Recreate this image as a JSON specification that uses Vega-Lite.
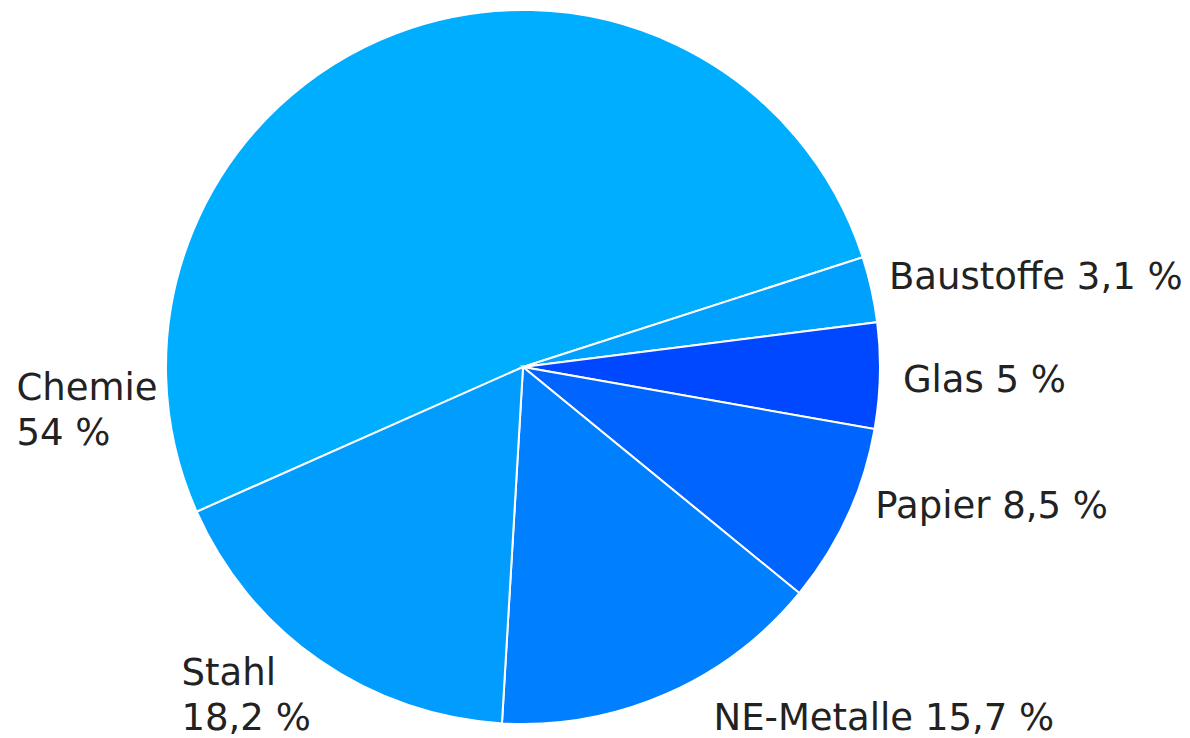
{
  "$schema": "https://vega.github.io/schema/vega-lite/v6.json",
  "width": 714,
  "height": 714,
  "autosize": {"type": "none"},
  "padding": {"left": 166, "top": 10, "right": 310, "bottom": 14},
  "background": "white",
  "config": {"view": {"stroke": null}},
  "data": {
    "values": [
      {"name": "Chemie", "value": 54, "label": "Chemie\n54 %", "k": 1},
      {"name": "Baustoffe", "value": 3.1, "label": "Baustoffe 3,1 %", "k": 2},
      {"name": "Glas", "value": 5, "label": "Glas 5 %", "k": 3},
      {"name": "Papier", "value": 8.5, "label": "Papier 8,5 %", "k": 4},
      {"name": "NE-Metalle", "value": 15.7, "label": "NE-Metalle 15,7 %", "k": 5},
      {"name": "Stahl", "value": 18.2, "label": "Stahl\n18,2 %", "k": 6}
    ]
  },
  "encoding": {
    "theta": {"field": "value", "type": "quantitative", "stack": true, "scale": {"range": [4.295, 10.578]}},
    "order": {"field": "k", "type": "quantitative", "sort": "ascending"}
  },
  "layer": [
    {
      "mark": {"type": "arc", "stroke": "white", "strokeWidth": 2},
      "encoding": {
        "color": {
          "field": "name",
          "type": "nominal",
          "scale": {
            "domain": ["Chemie", "Baustoffe", "Glas", "Papier", "NE-Metalle", "Stahl"],
            "range": ["#00AEFF", "#00A0FF", "#0048FF", "#0064FF", "#0080FF", "#009DFF"]
          },
          "legend": null
        }
      }
    },
    {
      "mark": {"type": "text", "radius": 380, "align": "left", "baseline": "alphabetic", "dx": -5, "dy": 5, "font": "DejaVu Sans", "fontSize": 37, "fill": "#222", "lineBreak": "\n", "lineHeight": 45},
      "encoding": {"text": {"condition": {"test": "datum.name === 'Baustoffe'", "field": "label"}, "value": ""}}
    },
    {
      "mark": {"type": "text", "radius": 380, "align": "left", "baseline": "alphabetic", "dx": 0, "dy": 16, "font": "DejaVu Sans", "fontSize": 37, "fill": "#222", "lineBreak": "\n", "lineHeight": 45},
      "encoding": {"text": {"condition": {"test": "datum.name === 'Glas'", "field": "label"}, "value": ""}}
    },
    {
      "mark": {"type": "text", "radius": 380, "align": "left", "baseline": "alphabetic", "dx": 7, "dy": -8, "font": "DejaVu Sans", "fontSize": 37, "fill": "#222", "lineBreak": "\n", "lineHeight": 45},
      "encoding": {"text": {"condition": {"test": "datum.name === 'Papier'", "field": "label"}, "value": ""}}
    },
    {
      "mark": {"type": "text", "radius": 380, "align": "left", "baseline": "alphabetic", "dx": 38, "dy": 15, "font": "DejaVu Sans", "fontSize": 37, "fill": "#222", "lineBreak": "\n", "lineHeight": 45},
      "encoding": {"text": {"condition": {"test": "datum.name === 'NE-Metalle'", "field": "label"}, "value": ""}}
    },
    {
      "mark": {"type": "text", "radius": 380, "align": "left", "baseline": "alphabetic", "dx": -125, "dy": 6, "font": "DejaVu Sans", "fontSize": 37, "fill": "#222", "lineBreak": "\n", "lineHeight": 45},
      "encoding": {"text": {"condition": {"test": "datum.name === 'Stahl'", "field": "label"}, "value": ""}}
    },
    {
      "mark": {"type": "text", "radius": 380, "align": "left", "baseline": "alphabetic", "dx": -371, "dy": 388, "font": "DejaVu Sans", "fontSize": 37, "fill": "#222", "lineBreak": "\n", "lineHeight": 45},
      "encoding": {"text": {"condition": {"test": "datum.name === 'Chemie'", "field": "label"}, "value": ""}}
    }
  ]
}
